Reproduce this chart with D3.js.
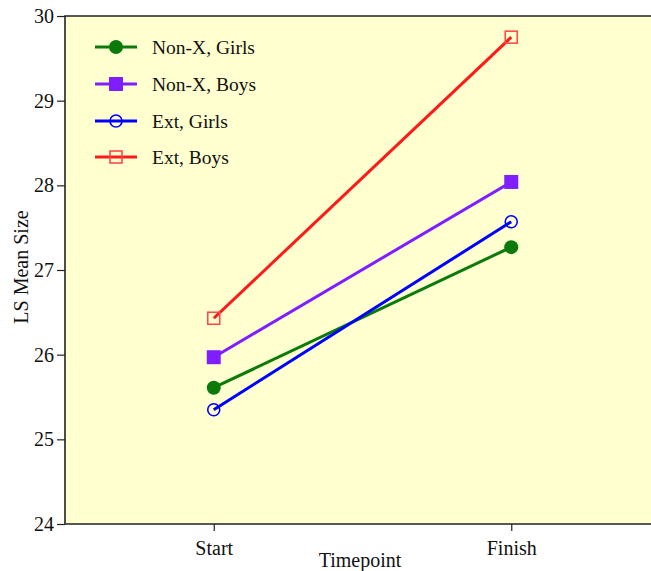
<!DOCTYPE html>
<html><head><meta charset="utf-8">
<script src="https://cdn.jsdelivr.net/npm/d3@7"></script>
<style>body{margin:0;background:#fff;overflow:hidden}svg{display:block}</style>
</head><body>
<script>
const timepoints = ["Start", "Finish"];
const seriesNames = ["Non-X, Girls", "Non-X, Boys", "Ext, Girls", "Ext, Boys"];
const nonXGirls = [25.61, 27.27];
const nonXBoys = [25.97, 28.04];
const extGirls = [25.35, 27.57];
const extBoys = [26.43, 29.75];
const yTicks = [24, 25, 26, 27, 28, 29, 30];
const colors = ["#0b7a0b", "#7f1fff", "#0000ff", "#ff1a1a"];
const markerColors = ["#0b7a0b", "#7f1fff", "#0000ff", "#ff4a4a"];
const markers = ["circleFilled", "squareFilled", "circleOpen", "squareOpen"];
const allSeries = [nonXGirls, nonXBoys, extGirls, extBoys];

const W = 651, H = 571;
const pLeft = 65, pTop = 16, pBottom = 524, pRight = 660;
const FONT = "'Liberation Serif', 'Times New Roman', serif";
const svg = d3.select("body").append("svg").attr("width", W).attr("height", H)
  .style("font-family", FONT);

const x = d3.scalePoint().domain(timepoints).range([pLeft, pRight]).padding(0.5);
const y = d3.scaleLinear().domain([24, 30]).range([pBottom, pTop]);

svg.append("rect").attr("x", pLeft).attr("y", pTop).attr("width", pRight - pLeft).attr("height", pBottom - pTop)
  .attr("fill", "#ffffd0");

function drawMarker(g, type, cx, cy, color) {
  if (type === "circleFilled") g.append("circle").attr("cx", cx).attr("cy", cy).attr("r", 7).attr("fill", color);
  else if (type === "squareFilled") g.append("rect").attr("x", cx - 7).attr("y", cy - 7).attr("width", 14).attr("height", 14).attr("fill", color);
  else if (type === "circleOpen") g.append("circle").attr("cx", cx).attr("cy", cy).attr("r", 6).attr("fill", "none").attr("stroke", color).attr("stroke-width", 1.6);
  else g.append("rect").attr("x", cx - 6).attr("y", cy - 6).attr("width", 12).attr("height", 12).attr("fill", "none").attr("stroke", color).attr("stroke-width", 1.6);
}

const line = d3.line().x((d, i) => x(timepoints[i])).y(d => y(d));
allSeries.forEach((vals, s) => {
  const g = svg.append("g");
  g.append("path").attr("d", line(vals)).attr("fill", "none").attr("stroke", colors[s]).attr("stroke-width", 3);
  vals.forEach((v, i) => drawMarker(g, markers[s], x(timepoints[i]), y(v), markerColors[s]));
});

// frame
svg.append("path").attr("d", `M${pRight},${pTop}H${pLeft}V${pBottom}H${pRight}`).attr("fill", "none").attr("stroke", "#222").attr("stroke-width", 1.6);

const yAxis = svg.append("g").attr("transform", `translate(${pLeft},0)`)
  .call(d3.axisLeft(y).tickValues(yTicks).tickFormat(d3.format("d")).tickSize(8).tickPadding(3));
yAxis.select(".domain").remove();
yAxis.selectAll("line").attr("stroke", "#222").attr("stroke-width", 1.2);
yAxis.selectAll("text").attr("font-size", 20).attr("fill", "#111").attr("font-family", FONT);

const xAxis = svg.append("g").attr("transform", `translate(0,${pBottom})`)
  .call(d3.axisBottom(x).tickSize(7).tickPadding(10));
xAxis.select(".domain").remove();
xAxis.selectAll("line").attr("stroke", "#222").attr("stroke-width", 1.2);
xAxis.selectAll("text").attr("font-size", 20).attr("fill", "#111").attr("font-family", FONT);

svg.append("text").attr("x", 360).attr("y", 567).attr("text-anchor", "middle")
  .attr("font-size", 20).attr("fill", "#111").attr("font-family", FONT).text("Timepoint");
svg.append("text").attr("transform", "translate(28,267) rotate(-90)").attr("text-anchor", "middle")
  .attr("font-size", 20).attr("fill", "#111").attr("font-family", FONT).text("LS Mean Size");

// legend
const legY = [47, 84, 121, 157];
seriesNames.forEach((name, s) => {
  const g = svg.append("g");
  g.append("line").attr("x1", 95).attr("x2", 137).attr("y1", legY[s]).attr("y2", legY[s]).attr("stroke", colors[s]).attr("stroke-width", 3);
  drawMarker(g, markers[s], 116, legY[s], markerColors[s]);
  g.append("text").attr("x", 152).attr("y", legY[s] + 7).attr("font-size", 19.5).attr("fill", "#111")
    .attr("font-family", FONT).text(name);
});
</script>
</body></html>
